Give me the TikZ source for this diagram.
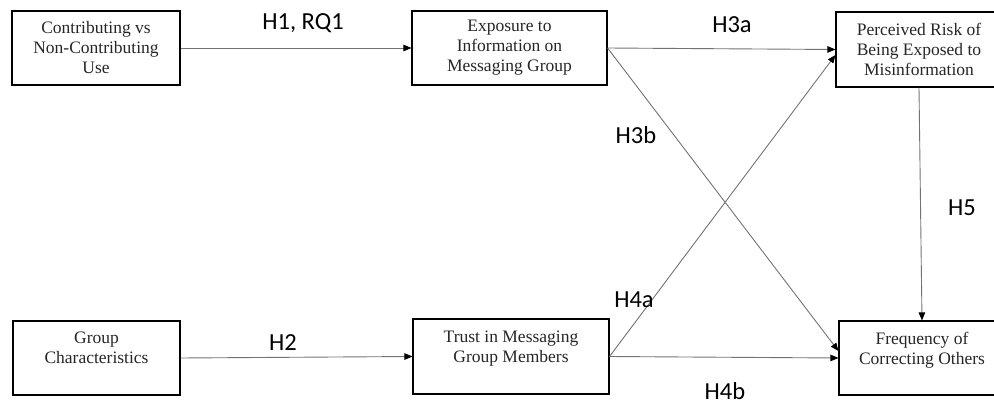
\documentclass[tikz,border=0pt]{standalone}
\usepackage{fontspec}
\setmainfont{Liberation Serif}
\newfontfamily\labfont{Carlito}
\usetikzlibrary{arrows.meta}
\definecolor{linegray}{RGB}{115,115,115}
\tikzset{
  box/.style={draw=black, line width=1.1pt, inner sep=0pt, align=center,
    font=\fontsize{17.5}{20}\selectfont, text=black!85},
  conn/.style={draw=linegray, line width=0.9pt,
    -{Triangle[length=8pt,width=6.5pt,color=black]}},
  hyp/.style={font=\labfont\fontsize{24.5}{26}\selectfont, text=black, inner sep=0pt}
}
\begin{document}
\begin{tikzpicture}[x=1pt,y=-1pt]
\useasboundingbox (0,0) rectangle (994,404);
\clip (0,0) rectangle (994,404);
\node[box, minimum width=168pt, minimum height=74pt] (contrib) at (96,48)
  {Contributing vs\\Non-Contributing\\Use};
\node[box, minimum width=195pt, minimum height=74pt] (expo) at (509.5,48)
  {Exposure to\\Information on\\Messaging Group};
\node[box, minimum width=166pt, minimum height=75pt] (risk) at (919,49.5)
  {Perceived Risk of\\Being Exposed to\\Misinformation};
\node[box, minimum width=167pt, minimum height=74pt] (group) at (96.5,358)
  {Group\\Characteristics\\\mbox{}};
\node[box, minimum width=196pt, minimum height=75pt] (trust) at (511,356.5)
  {Trust in Messaging\\Group Members\\\mbox{}};
\node[box, minimum width=166pt, minimum height=74pt] (freq) at (922,358)
  {Frequency of\\Correcting Others\\\mbox{}};

\draw[conn] (contrib.east) -- (expo.west);
\draw[conn] (expo.east) -- (risk.west);
\draw[conn] (expo.east) -- ([yshift=7pt]freq.west);
\draw[conn] (trust.east) -- ([yshift=-5.5pt]risk.west);
\draw[conn] (trust.east) -- (freq.west);
\draw[conn] (group.east) -- (trust.west);
\draw[conn] (risk.south) -- (freq.north);

\node[hyp] (l1) at (303,23) {H1, RQ1};
\node[hyp] (l2) at (283,343) {H2};
\node[hyp] (l3a) at (732,25) {H3a};
\node[hyp] (l3b) at (636,135) {H3b};
\node[hyp] (l4a) at (634,300) {H4a};
\node[hyp] (l4b) at (725,391) {H4b};
\node[hyp] (l5) at (962,208) {H5};
\end{tikzpicture}
\end{document}
